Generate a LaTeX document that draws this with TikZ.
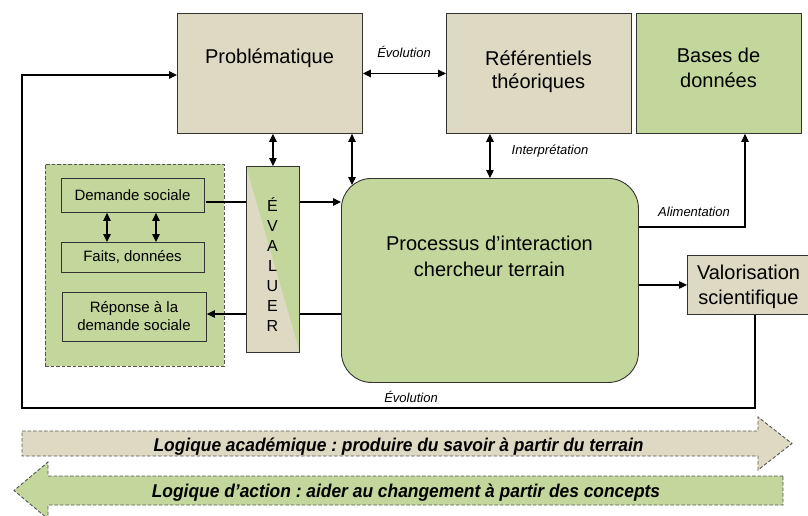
\documentclass[tikz,border=0pt]{standalone}
\usepackage{fontspec}
\setmainfont{Liberation Sans}
\newfontfamily\bandfont[FakeStretch=0.94]{Liberation Sans}
\usetikzlibrary{arrows.meta,calc}
\definecolor{beige}{HTML}{DDD9C3}
\definecolor{vert}{HTML}{C3D69B}
\definecolor{edgec}{HTML}{333333}
\definecolor{dashc}{HTML}{555555}
\frenchspacing
\tikzset{
  box/.style={draw=edgec, line width=0.9pt, inner sep=0pt, anchor=north west},
  bigtxt/.style={font=\fontsize{20}{23}\selectfont, align=center, inner sep=0pt},
  smalltxt/.style={font=\fontsize{15}{18}\selectfont, align=center, inner sep=0pt},
  lbl/.style={font=\fontsize{13}{15}\selectfont\itshape, inner sep=0pt},
  bandtxt/.style={font=\fontsize{18.5}{20}\selectfont\bandfont\bfseries\itshape, inner sep=0pt, anchor=base},
  plainline/.style={draw=black, line width=1.1pt},
  arr/.style={plainline, -{Triangle[length=8pt,width=7.5pt]}},
  darr/.style={plainline, {Triangle[length=8pt,width=7.5pt]}-{Triangle[length=8pt,width=7.5pt]}},
  dashedge/.style={draw=dashc, dash pattern=on 3.5pt off 2pt, line width=0.9pt},
}
\begin{document}
\frenchspacing
\begin{tikzpicture}[x=1pt,y=-1pt]
\useasboundingbox (0,0) rectangle (808,516);
\fill[white] (0,0) rectangle (808,516);

% top boxes
\node[box, fill=beige, minimum width=185pt, minimum height=120pt] (prob) at (177,13) {};
\node[bigtxt] (probt) at (269.5,58) {Problématique};
\node[box, fill=beige, minimum width=185pt, minimum height=120pt] (ref) at (446,13) {};
\node[bigtxt] (reft) at (538.5,72) {Référentiels\\théoriques};
\node[box, fill=vert, minimum width=165pt, minimum height=120pt] (bdd) at (636,13) {};
\node[bigtxt, font=\fontsize{20}{24.5}\selectfont] (bddt) at (718.5,68) {Bases de\\données};

% process
\node[box, fill=vert, rounded corners=30pt, minimum width=297pt, minimum height=204pt] (proc) at (341,178) {};
\node[bigtxt, font=\fontsize{20}{26}\selectfont] (proct) at (489.5,256) {Processus d’interaction\\chercheur terrain};

% valorisation
\node[box, fill=beige, minimum width=125pt, minimum height=59pt] (valo) at (687,255) {};
\node[bigtxt, font=\fontsize{20}{25}\selectfont] (valot) at (748.5,287) {Valorisation\\scientifique};

% left group
\node[box, fill=vert, dashedge, minimum width=179pt, minimum height=202pt] (grp) at (45,164) {};
\node[box, fill=vert, minimum width=143pt, minimum height=34pt] (dem) at (61,178) {};
\node[smalltxt] (demt) at (132.5,195) {Demande sociale};
\node[box, fill=vert, minimum width=143pt, minimum height=30pt] (faits) at (61,242) {};
\node[smalltxt] (faitst) at (132.5,257) {Faits, données};
\node[box, fill=vert, minimum width=144pt, minimum height=49pt] (rep) at (62,292) {};
\node[smalltxt] (rept) at (134,316.5) {Réponse à la\\demande sociale};

\draw[darr] ([xshift=46pt]dem.south west) -- ([xshift=46pt]faits.north west);
\draw[darr] ([xshift=95pt]dem.south west) -- ([xshift=95pt]faits.north west);

% evaluer
\node[box, fill=vert, minimum width=53pt, minimum height=186pt] (eval) at (246,166) {};
\fill[beige] (eval.north west) -- (eval.south east) -- (eval.south west) -- cycle;
\draw[edgec, line width=0.9pt] (eval.north west) rectangle (eval.south east);
\node[font=\fontsize{16}{20}\selectfont, align=center, inner sep=0pt] (evalt) at (272.5,264.5) {É\\V\\A\\L\\U\\E\\R};

% connectors
\coordinate (lin) at (206,202);
\coordinate (lout) at (206,314);
\coordinate (pcorner) at (352,185);
\coordinate (alim) at (745,227);
\coordinate (fb) at (755,408);
\coordinate (fbl) at (22,75);

\draw[darr] (prob.east) -- (ref.west);
\node[lbl] (evo1) at (404,52) {Évolution};
\draw[darr] (prob.south -| eval.north) -- (eval.north);
\draw[darr] (prob.south -| pcorner) -- (pcorner);
\draw[darr] (ref.south -| proc.north) -- (proc.north);
\node[lbl] (interp) at (550,151) {Interprétation};
\draw[arr] (alim -| proc.east) -- (alim) -- (alim |- bdd.south);
\node[lbl] (alimt) at (694,212) {Alimentation};
\draw[arr] (proc.east |- valo.west) -- (valo.west);
\draw[arr] (valo.south -| fb) -- (fb) -| (fbl) -- (fbl -| prob.west);
\node[lbl] (evo2) at (411,397) {Évolution};

\draw[plainline] (lin) -- (lin -| eval.west);
\draw[arr] (lin -| eval.east) -- (lin -| proc.west);
\draw[plainline] (lout -| proc.west) -- (lout -| eval.east);
\draw[arr] (lout -| eval.west) -- (lout -| rep.east);

% bottom bands
\draw[dashedge, fill=beige] (22,431) -- (758,431) -- (758,417) -- (792,443.5) -- (758,470) -- (758,456) -- (22,456) -- cycle;
\node[bandtxt] (band1) at (398.5,451) {Logique académique : produire du savoir à partir du terrain};
\draw[dashedge, fill=vert] (783,476) -- (48,476) -- (48,462) -- (14,490.5) -- (48,519) -- (48,505) -- (783,505) -- cycle;
\node[bandtxt] (band2) at (406,497.7) {Logique d’action : aider au changement à partir des concepts};
\end{tikzpicture}
\end{document}
